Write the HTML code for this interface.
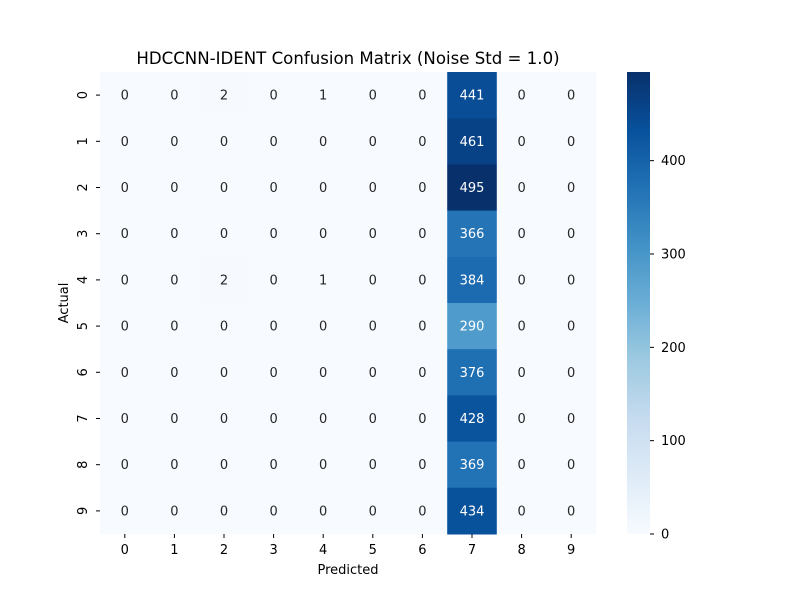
<!DOCTYPE html>
<html><head><meta charset="utf-8"><style>
body{margin:0;background:#fff;font-family:"Liberation Sans","DejaVu Sans",sans-serif}
svg text{font-family:"DejaVu Sans","Liberation Sans",sans-serif}
</style></head><body>
<svg id="chart" width="800" height="600" xmlns="http://www.w3.org/2000/svg">
<rect width="800" height="600" fill="#fff"/>
<text x="348" y="64" font-size="16.6" text-anchor="middle">HDCCNN-IDENT Confusion Matrix (Noise Std = 1.0)</text>
<g id="cells"></g>
<g id="xt"></g>
<g id="yt"></g>
<text x="348" y="574" font-size="13" text-anchor="middle">Predicted</text>
<text transform="translate(68,303) rotate(-90)" font-size="13" text-anchor="middle">Actual</text>
<defs><linearGradient id="cg" x1="0" y1="1" x2="0" y2="0"></linearGradient></defs>
<rect x="627" y="72" width="23" height="462" fill="url(#cg)"/>
<g id="cb"></g>
</svg>
<script>
const classes=["0","1","2","3","4","5","6","7","8","9"];
const matrix=[
[0,0,2,0,1,0,0,441,0,0],
[0,0,0,0,0,0,0,461,0,0],
[0,0,0,0,0,0,0,495,0,0],
[0,0,0,0,0,0,0,366,0,0],
[0,0,2,0,1,0,0,384,0,0],
[0,0,0,0,0,0,0,290,0,0],
[0,0,0,0,0,0,0,376,0,0],
[0,0,0,0,0,0,0,428,0,0],
[0,0,0,0,0,0,0,369,0,0],
[0,0,0,0,0,0,0,434,0,0]];
const cbTicks=[0,100,200,300,400];
const stops=[[0.968627,0.984314,1.0],[0.870588,0.921569,0.968627],[0.776471,0.858824,0.937255],[0.619608,0.792157,0.882353],[0.419608,0.682353,0.839216],[0.258824,0.572549,0.776471],[0.129412,0.443137,0.709804],[0.031373,0.317647,0.611765],[0.031373,0.188235,0.419608]];
const NS="http://www.w3.org/2000/svg";
const vmax=Math.max(...matrix.flat()),vmin=0;
function cmap(t){t=Math.max(0,Math.min(1,t));const p=t*8,i=Math.min(7,Math.floor(p)),f=p-i;return stops[i].map((c,k)=>c+(stops[i+1][k]-c)*f);}
function rgb(c){return `rgb(${c.map(v=>Math.round(v*255)).join(",")})`;}
function lum(c){const l=c.map(v=>v<=0.03928?v/12.92:Math.pow((v+0.055)/1.055,2.4));return 0.2126*l[0]+0.7152*l[1]+0.0722*l[2];}
const X0=100,X1=596,Y0=72,Y1=534,cw=(X1-X0)/classes.length,ch=(Y1-Y0)/classes.length;
const xs=i=>X0+i*cw, ys=i=>Y0+i*ch;
function el(tag,a,p){const e=document.createElementNS(NS,tag);for(const k in a)e.setAttribute(k,a[k]);p.appendChild(e);return e;}
const cells=document.getElementById('cells');
matrix.forEach((row,r)=>row.forEach((v,c)=>{
 const col=cmap((v-vmin)/(vmax-vmin));
 const rc=el('rect',{x:xs(c),y:ys(r),width:cw+0.5,height:ch+0.5,fill:rgb(col)},cells);
 
 
 const t=el('text',{x:xs(c)+cw/2,y:ys(r)+ch/2+4.5,'font-size':13,'text-anchor':'middle',fill:lum(col)>0.408?'#262626':'#fff'},cells);
 t.textContent=v;
 
 
}));
const xt=document.getElementById('xt'),yt=document.getElementById('yt');
classes.forEach((c,i)=>{
 const cx=xs(i)+cw/2;
 el('line',{x1:cx,x2:cx,y1:Y1,y2:Y1+4,stroke:'#000'},xt);
 const t=el('text',{x:cx,y:Y1+20,'font-size':13,'text-anchor':'middle'},xt);t.textContent=c;
 
 
 const cy=ys(i)+ch/2;
 el('line',{x1:X0-4,x2:X0,y1:cy,y2:cy,stroke:'#000'},yt);
 const u=el('text',{transform:`translate(${X0-13},${cy}) rotate(-90)`,'font-size':13,'text-anchor':'middle'},yt);u.textContent=c;
 
 
});
const g=document.getElementById('cg');
for(let i=0;i<=8;i++)el('stop',{offset:i/8,'stop-color':rgb(stops[i])},g);
const cb=document.getElementById('cb');
cbTicks.forEach(v=>{
 const y=Y1-(v-vmin)/(vmax-vmin)*(Y1-Y0);
 el('line',{x1:650,x2:654,y1:y,y2:y,stroke:'#000'},cb);
 const t=el('text',{x:661,y:y+4.5,'font-size':13},cb);t.textContent=v;
 
 
});
</script>
</body></html>
